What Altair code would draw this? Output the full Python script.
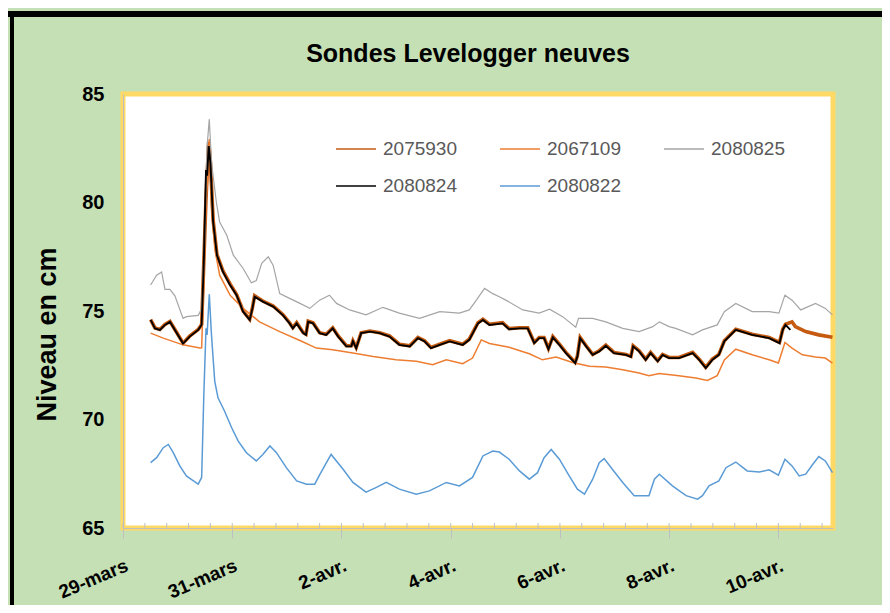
import json
import altair as alt
import pandas as pd
import numpy as np

# ---------------- data (time = days since 29 March 00:00) ----------------
SERIES = ["2075930", "2067109", "2080825", "2080824", "2080822"]
COLORS = ["#C55A11", "#ED7D31", "#A5A5A5", "#000000", "#5B9BD5"]
WIDTHS = [3.6, 1.5, 1.2, 1.9, 1.5]

TICK_DAYS = [0, 2, 4, 6, 8, 10, 12]
TICK_LABELS = ["29-mars", "31-mars", "2-avr.", "4-avr.", "6-avr.", "8-avr.", "10-avr."]
Y_TICKS = [65, 70, 75, 80, 85]

t_2080825 = [0.506, 0.616, 0.707, 0.768, 0.859, 0.95, 1.10, 1.16, 1.377, 1.44, 1.50, 1.54, 1.58, 1.62,
             1.71, 1.77, 1.90, 2.02, 2.20, 2.35, 2.44, 2.54, 2.66, 2.75, 2.87, 3.05, 3.24, 3.42, 3.60,
             3.78, 3.91, 4.15, 4.45, 4.76, 5.06, 5.43, 5.80, 6.16, 6.34, 6.47, 6.62, 6.77, 6.89, 7.01,
             7.32, 7.62, 7.81, 8.05, 8.29, 8.34, 8.60, 8.84, 9.15, 9.45, 9.70, 9.82, 10.0, 10.12, 10.43,
             10.61, 10.88, 11.01, 11.22, 11.52, 11.83, 12.01, 12.12, 12.25, 12.41, 12.68, 12.86, 12.99]
v_2080825 = [76.2, 76.65, 76.8, 76.0, 76.0, 75.7, 74.66, 74.74, 74.8, 75.1, 78.8, 82.6, 83.84, 81.85,
             80.0, 79.1, 78.49, 77.57, 76.96, 76.3, 76.4, 77.2, 77.5, 77.1, 75.8, 75.58, 75.35, 75.12, 75.5,
             75.73, 75.35, 75.05, 74.82, 75.17, 74.9, 74.66, 74.97, 74.9, 75.05, 75.5, 76.04, 75.8, 75.66, 75.5,
             75.05, 74.9, 75.08, 74.74, 74.25, 74.66, 74.66, 74.5, 74.2, 74.05, 74.28, 74.5, 74.28, 74.2, 73.9,
             74.13, 74.36, 74.97, 75.35, 74.97, 74.97, 74.9, 75.73, 75.5, 75.05, 75.35, 75.12, 74.82]

t_2080824 = [0.506, 0.585, 0.676, 0.768, 0.86, 0.95, 1.10, 1.22, 1.377, 1.44, 1.48, 1.52, 1.54, 1.57,
             1.60, 1.65, 1.72, 1.83, 1.96, 2.08, 2.20, 2.32, 2.37, 2.41, 2.56, 2.75, 2.93, 3.05, 3.11,
             3.18, 3.30, 3.35, 3.39, 3.48, 3.60, 3.72, 3.84, 3.94, 4.09, 4.18, 4.21, 4.27, 4.36, 4.52,
             4.70, 4.88, 5.06, 5.25, 5.40, 5.52, 5.64, 5.80, 5.98, 6.22, 6.34, 6.50, 6.59, 6.71, 6.95,
             7.07, 7.26, 7.41, 7.53, 7.62, 7.71, 7.79, 7.87, 7.99, 8.11, 8.28, 8.32, 8.37, 8.48, 8.60,
             8.72, 8.84, 8.99, 9.21, 9.30, 9.34, 9.45, 9.57, 9.66, 9.79, 9.88, 10.0, 10.18, 10.43, 10.55,
             10.67, 10.79, 10.91, 11.01, 11.22, 11.52, 11.83, 12.02, 12.08, 12.13, 12.22]
v_2080824 = [74.59, 74.2, 74.13, 74.36, 74.5, 74.13, 73.5, 73.82, 74.13, 74.36, 77.26, 81.5, 81.24, 82.6,
             81.85, 79.1, 77.57, 76.8, 76.2, 75.73, 74.97, 74.59, 75.12, 75.66, 75.43, 75.2, 74.8, 74.43, 74.2,
             74.43, 73.98, 73.9, 74.5, 74.43, 73.98, 73.9, 74.2, 73.82, 73.37, 73.37, 73.6, 73.29, 73.98, 74.05,
             73.98, 73.82, 73.44, 73.37, 73.75, 73.6, 73.29, 73.44, 73.6, 73.44, 73.67, 74.43, 74.59, 74.36, 74.43,
             74.16, 74.2, 74.2, 73.52, 73.75, 73.75, 73.24, 73.79, 73.44, 73.06, 72.6, 72.9, 73.75, 73.37, 72.98,
             73.14, 73.4, 73.06, 72.98, 72.88, 73.37, 73.14, 72.75, 73.06, 72.68, 72.98, 72.83, 72.83, 73.06, 72.75,
             72.37, 72.75, 72.98, 73.6, 74.13, 73.9, 73.75, 73.52, 74.13, 74.36, 74.13]

t_2075930 = [0.506, 0.585, 0.676, 0.768, 0.86, 0.95, 1.10, 1.22, 1.377, 1.44, 1.48, 1.52, 1.54, 1.57,
             1.60, 1.65, 1.72, 1.83, 1.96, 2.08, 2.20, 2.32, 2.37, 2.41, 2.56, 2.75, 2.93, 3.05, 3.11,
             3.18, 3.30, 3.35, 3.39, 3.48, 3.60, 3.72, 3.84, 3.94, 4.09, 4.18, 4.21, 4.27, 4.36, 4.52,
             4.70, 4.88, 5.06, 5.25, 5.40, 5.52, 5.64, 5.80, 5.98, 6.22, 6.34, 6.50, 6.59, 6.71, 6.95,
             7.07, 7.26, 7.41, 7.53, 7.62, 7.71, 7.79, 7.87, 7.99, 8.11, 8.28, 8.32, 8.37, 8.48, 8.60,
             8.72, 8.84, 8.99, 9.21, 9.30, 9.34, 9.45, 9.57, 9.66, 9.79, 9.88, 10.0, 10.18, 10.43, 10.55,
             10.67, 10.79, 10.91, 11.01, 11.22, 11.52, 11.83, 12.02, 12.08, 12.13, 12.25, 12.31, 12.50,
             12.74, 12.99]
v_2075930 = [74.6, 74.22, 74.15, 74.38, 74.52, 74.15, 73.52, 73.84, 74.15, 74.38, 77.3, 80.2, 81.3, 82.8,
             81.9, 79.2, 77.6, 76.85, 76.25, 75.76, 75.0, 74.62, 75.15, 75.7, 75.46, 75.23, 74.83, 74.46, 74.23,
             74.46, 74.0, 73.93, 74.53, 74.46, 74.0, 73.93, 74.23, 73.85, 73.4, 73.4, 73.63, 73.32, 74.0, 74.08,
             74.0, 73.85, 73.47, 73.4, 73.78, 73.63, 73.32, 73.47, 73.63, 73.47, 73.7, 74.46, 74.62, 74.39, 74.46,
             74.19, 74.23, 74.23, 73.55, 73.78, 73.78, 73.27, 73.82, 73.47, 73.09, 72.63, 72.93, 73.78, 73.4, 73.0,
             73.17, 73.43, 73.09, 73.0, 72.91, 73.4, 73.17, 72.78, 73.09, 72.71, 73.0, 72.86, 72.86, 73.09, 72.78,
             72.4, 72.78, 73.0, 73.63, 74.16, 73.93, 73.78, 73.55, 74.16, 74.39, 74.5, 74.28, 74.05,
             73.9, 73.79]

t_2067109 = [0.506, 0.737, 1.10, 1.41, 1.44, 1.48, 1.52, 1.55, 1.58, 1.62, 1.68, 1.77, 1.96, 2.20, 2.50,
             2.87, 3.24, 3.54, 3.84, 4.21, 4.58, 5.0, 5.37, 5.67, 5.92, 6.22, 6.40, 6.56, 6.71, 7.07, 7.44,
             7.68, 7.93, 8.23, 8.54, 8.84, 9.15, 9.45, 9.63, 9.82, 10.18, 10.49, 10.70, 10.88, 11.01, 11.22,
             11.52, 11.83, 12.0, 12.12, 12.25, 12.44, 12.68, 12.86, 12.99]
v_2067109 = [73.98, 73.75, 73.44, 73.29, 73.3, 76.5, 80.2, 81.0, 82.92, 79.86, 77.88, 76.65, 75.73, 75.12, 74.5,
             74.05, 73.64, 73.29, 73.21, 73.06, 72.9, 72.75, 72.68, 72.52, 72.75, 72.57, 72.83, 73.67, 73.5, 73.33, 73.03,
             72.75, 72.88, 72.63, 72.45, 72.42, 72.29, 72.14, 72.02, 72.12, 72.02, 71.91, 71.8, 72.02, 72.75, 73.24,
             72.98, 72.75, 72.6, 73.55, 73.29, 72.98, 72.88, 72.83, 72.6]

t_2080822 = [0.506, 0.616, 0.737, 0.83, 0.92, 1.04, 1.16, 1.29, 1.377, 1.44, 1.48, 1.52, 1.54, 1.58, 1.62,
             1.68, 1.74, 1.86, 1.99, 2.11, 2.26, 2.44, 2.56, 2.69, 2.81, 2.99, 3.18, 3.36, 3.51, 3.60, 3.81,
             4.03, 4.21, 4.45, 4.64, 4.82, 5.06, 5.37, 5.61, 5.92, 6.16, 6.40, 6.59, 6.77, 6.89, 7.07, 7.26,
             7.44, 7.59, 7.71, 7.84, 7.99, 8.17, 8.32, 8.45, 8.60, 8.72, 8.81, 8.96, 9.15, 9.36, 9.63, 9.73,
             9.82, 10.06, 10.31, 10.52, 10.61, 10.73, 10.91, 11.04, 11.22, 11.43, 11.65, 11.83, 12.0, 12.12,
             12.25, 12.38, 12.50, 12.62, 12.74, 12.86, 12.99]
v_2080822 = [68.01, 68.24, 68.7, 68.85, 68.47, 67.86, 67.4, 67.17, 67.02, 67.33, 71.15, 74.2, 73.9, 75.77, 73.9,
             71.76, 71.0, 70.38, 69.62, 69.0, 68.47, 68.09, 68.39, 68.78, 68.47, 67.78, 67.17, 67.02, 67.02, 67.45, 68.39,
             67.71, 67.1, 66.65, 66.87, 67.1, 66.79, 66.56, 66.71, 67.1, 66.94, 67.33, 68.32, 68.55, 68.5, 68.17, 67.63,
             67.25, 67.55, 68.24, 68.62, 68.17, 67.4, 66.79, 66.56, 67.25, 68.01, 68.2, 67.71, 67.1, 66.49, 66.49, 67.25,
             67.48, 66.94, 66.49, 66.33, 66.49, 66.94, 67.17, 67.78, 68.04, 67.63, 67.58, 67.68, 67.43, 68.17,
             67.86, 67.4, 67.48, 67.9, 68.29, 68.09, 67.55]

data = {
    "2075930": (t_2075930, v_2075930),
    "2067109": (t_2067109, v_2067109),
    "2080825": (t_2080825, v_2080825),
    "2080824": (t_2080824, v_2080824),
    "2080822": (t_2080822, v_2080822),
}

# ---------------- styling ----------------
GREEN = "#C5E0B4"
YELLOW = "#FFD966"
AXIS_GREY = "#BFBFBF"
W, H = 710, 434
PAD = {"left": 115, "top": 86, "right": 49, "bottom": 77}
SANS = "Liberation Sans, Arial, sans-serif"

label_expr = json.dumps(TICK_LABELS) + "[round(datum.value / 2)]"

x_enc = alt.X(
    "jour:Q",
    scale=alt.Scale(domain=[0, 13], nice=False, zero=False),
    axis=alt.Axis(
        values=TICK_DAYS, labelExpr=label_expr, title=None, grid=False,
        labelAngle=337, labelAlign="right", labelBaseline="top", labelPadding=18,
        labelFlush=False, labelOverlap=False,
        labelFont=SANS, labelFontWeight="bold", labelFontSize=19, labelColor="black",
        tickSize=10, tickColor=AXIS_GREY, domainColor=AXIS_GREY, domainWidth=1,
    ),
)
y_enc = alt.Y(
    "niveau:Q",
    scale=alt.Scale(domain=[65, 85], nice=False, zero=False),
    axis=alt.Axis(
        values=Y_TICKS, title="Niveau en cm", grid=False, ticks=False, tickSize=0,
        labelPadding=19, labelFlush=False,
        labelFont=SANS, labelFontWeight="bold", labelFontSize=20, labelColor="black",
        titleFont=SANS, titleFontWeight="bold", titleFontSize=27, titleColor="black",
        titleAngle=270, titleAlign="center", titleBaseline="middle", titleX=-76, titleY=240,
        domainColor=AXIS_GREY, domainWidth=1,
    ),
)
color_scale = alt.Scale(domain=SERIES, range=COLORS)
legend = alt.Legend(
    title=None, orient="none", legendX=212, legendY=34, direction="horizontal", columns=3,
    symbolType="stroke", symbolSize=1600, symbolStrokeWidth=1.5,
    labelFont=SANS, labelFontSize=19, labelColor="#595959", labelOffset=6,
    columnPadding=40, rowPadding=6, padding=0,
)

layers = []
# decorative black frame of the chart area (top and left)
frame = pd.DataFrame({"k": [0]})
layers.append(alt.Chart(frame).mark_rule(color="black", strokeWidth=6).encode(
    x=alt.value(-115), x2=alt.value(W + PAD["right"]), y=alt.value(-80)))
layers.append(alt.Chart(frame).mark_rule(color="black", strokeWidth=4).encode(
    x=alt.value(-111), y=alt.value(-83), y2=alt.value(H + PAD["bottom"])))

# minor ticks (inside the plot, every 0.4 day)
minor = pd.DataFrame({"jour": np.round(np.arange(0, 13.001, 0.4), 2)})
layers.append(alt.Chart(minor).mark_rule(color=AXIS_GREY, strokeWidth=1).encode(
    x=x_enc, y=alt.value(H), y2=alt.value(H - 5)))

for name, w in zip(SERIES, WIDTHS):
    t, v = data[name]
    df = pd.DataFrame({"jour": t, "niveau": v, "serie": name})
    layers.append(alt.Chart(df).mark_line(strokeWidth=w, interpolate="linear").encode(
        x=x_enc, y=y_enc,
        color=alt.Color("serie:N", scale=color_scale, legend=legend),
    ))

chart = alt.layer(*layers).properties(
    width=W, height=H,
    padding=PAD,
    autosize=alt.AutoSizeParams(type="none"),
    background=GREEN,
    title=alt.TitleParams(
        "Sondes Levelogger neuves", font=SANS, fontSize=25, fontWeight="bold",
        color="black", anchor="middle", dx=-10, offset=-78, baseline="alphabetic",
    ),
).configure_view(stroke=YELLOW, strokeWidth=5, fill="white")

chart.save("out.html", embed_options={"renderer": "svg", "actions": False})
